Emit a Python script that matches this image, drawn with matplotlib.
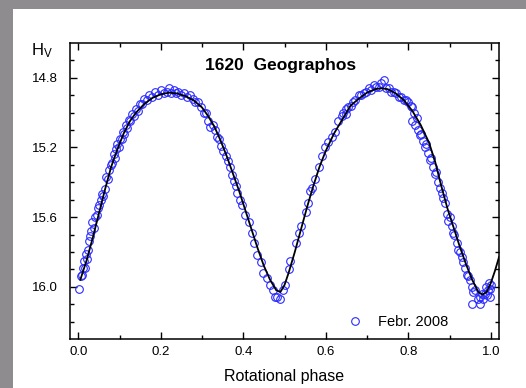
import numpy as np
import matplotlib.pyplot as plt

plt.rcParams['font.family'] = ['Liberation Sans', 'DejaVu Sans']
plt.rcParams['mathtext.default'] = 'regular'

# Fourier fit
fit_phase = [0.005, 0.02, 0.035, 0.05, 0.065, 0.08, 0.095, 0.11, 0.125, 0.14,
             0.16, 0.18, 0.20, 0.22, 0.24, 0.26, 0.28, 0.30, 0.315, 0.33,
             0.345, 0.36, 0.375, 0.39, 0.405, 0.42, 0.435, 0.45, 0.465, 0.48,
             0.49, 0.50, 0.51, 0.525, 0.54, 0.555, 0.57, 0.585, 0.60, 0.62,
             0.64, 0.66, 0.68, 0.70, 0.72, 0.735, 0.75, 0.77, 0.79, 0.81,
             0.83, 0.85, 0.865, 0.88, 0.895, 0.91, 0.925, 0.94, 0.955, 0.97,
             0.98, 0.99, 1.00, 1.01, 1.02]
fit_mag = [15.96, 15.85, 15.72, 15.58, 15.44, 15.31, 15.21, 15.12, 15.05, 15.00,
           14.95, 14.915, 14.895, 14.885, 14.89, 14.905, 14.93, 14.97, 15.02, 15.08,
           15.16, 15.25, 15.35, 15.45, 15.56, 15.67, 15.78, 15.88, 15.96, 16.02,
           16.03, 15.99, 15.92, 15.80, 15.67, 15.54, 15.42, 15.31, 15.22, 15.12,
           15.04, 14.96, 14.92, 14.885, 14.865, 14.86, 14.865, 14.89, 14.93, 14.99,
           15.07, 15.17, 15.28, 15.42, 15.55, 15.66, 15.77, 15.87, 15.96, 16.03,
           16.045, 16.03, 15.98, 15.91, 15.83]

# observations, Febr. 2008
obs_phase = [0.002, 0.007, 0.010, 0.011, 0.017, 0.013, 0.022, 0.018, 0.023, 0.025,
             0.029, 0.031, 0.037, 0.034, 0.041, 0.046, 0.049, 0.051, 0.055, 0.058,
             0.061, 0.065,
             0.068, 0.072, 0.075, 0.079, 0.082, 0.086, 0.089, 0.092, 0.095, 0.098,
             0.101, 0.105, 0.108, 0.111, 0.115, 0.118, 0.122, 0.126, 0.130, 0.134,
             0.139, 0.144, 0.149, 0.154, 0.160, 0.166, 0.172, 0.179, 0.186, 0.193,
             0.200, 0.207, 0.214, 0.219, 0.225, 0.231, 0.237, 0.243, 0.250, 0.257,
             0.264, 0.270, 0.277, 0.284, 0.291, 0.298, 0.304, 0.310, 0.315, 0.320,
             0.326, 0.331, 0.336, 0.342, 0.346,
             0.352, 0.357, 0.362, 0.367, 0.373, 0.378, 0.383, 0.386, 0.392, 0.397,
             0.405, 0.413, 0.422, 0.426, 0.434, 0.442, 0.449, 0.458, 0.466, 0.473,
             0.478, 0.483, 0.490, 0.497, 0.502, 0.510, 0.514, 0.527, 0.534, 0.539,
             0.551, 0.556, 0.563, 0.567, 0.575, 0.583, 0.590, 0.598, 0.605, 0.615,
             0.622, 0.630, 0.640, 0.650,
             0.643, 0.648, 0.655, 0.660, 0.667, 0.672, 0.680, 0.686, 0.692, 0.698,
             0.704, 0.710, 0.716, 0.722, 0.728, 0.733, 0.740, 0.745, 0.753, 0.758,
             0.765, 0.771, 0.777, 0.783, 0.789, 0.795, 0.800, 0.806, 0.810, 0.813,
             0.810, 0.816, 0.820, 0.823, 0.828, 0.832, 0.835, 0.840, 0.843, 0.847,
             0.852, 0.856, 0.860, 0.864, 0.868, 0.872, 0.876, 0.881,
             0.885, 0.889, 0.893, 0.896, 0.900, 0.905, 0.908, 0.912, 0.918, 0.920,
             0.925, 0.930, 0.932, 0.937, 0.942, 0.945, 0.949, 0.954, 0.958, 0.961,
             0.955, 0.973, 0.968, 0.978, 0.980, 0.985, 0.990, 0.993, 0.997, 0.995,
             1.000, 0.999, 0.988, 0.975]
obs_mag = [16.01, 15.94, 15.93, 15.89, 15.89, 15.85, 15.84, 15.81, 15.79, 15.74,
           15.71, 15.68, 15.66, 15.63, 15.60, 15.59, 15.55, 15.53, 15.50, 15.47,
           15.48, 15.44,
           15.37, 15.38, 15.33, 15.30, 15.29, 15.24, 15.26, 15.21, 15.18, 15.20,
           15.15, 15.15, 15.11, 15.12, 15.07, 15.09, 15.04, 15.05, 15.01, 15.02,
           14.98, 14.99, 14.95, 14.95, 14.92, 14.93, 14.90, 14.91, 14.88, 14.90,
           14.87, 14.89, 14.88, 14.86, 14.885, 14.87, 14.89, 14.88, 14.90, 14.89,
           14.91, 14.90, 14.92, 14.94, 14.94, 14.97, 15.00, 15.00, 15.05, 15.08,
           15.07, 15.10, 15.14, 15.15, 15.19,
           15.22, 15.25, 15.28, 15.31, 15.36, 15.39, 15.42, 15.46, 15.50, 15.53,
           15.59, 15.63, 15.69, 15.75, 15.82, 15.86, 15.92, 15.95, 15.99, 16.02,
           16.06, 16.06, 16.07, 16.02, 15.99, 15.90, 15.85, 15.75, 15.69, 15.65,
           15.57, 15.52, 15.45, 15.43, 15.38, 15.31, 15.25, 15.20, 15.17, 15.14,
           15.11, 15.05, 15.02, 14.98,
           15.00, 15.01, 14.97, 14.96, 14.94, 14.93, 14.90, 14.90, 14.89, 14.88,
           14.86, 14.87, 14.84, 14.85, 14.85, 14.83, 14.81, 14.86, 14.86, 14.88,
           14.88, 14.89, 14.91, 14.91, 14.93, 14.93, 14.94, 14.96, 14.97, 15.00,
           15.05, 15.07, 15.03, 15.10, 15.13, 15.12, 15.16, 15.20, 15.18, 15.23,
           15.27, 15.26, 15.31, 15.35, 15.34, 15.40, 15.43, 15.46,
           15.49, 15.52, 15.58, 15.62, 15.60, 15.65, 15.69, 15.70, 15.75, 15.79,
           15.80, 15.83, 15.86, 15.89, 15.93, 15.94, 15.96, 16.00, 16.03, 16.02,
           16.10, 16.10, 16.07, 16.04, 16.07, 16.04, 16.05, 16.02, 16.06, 15.98,
           15.99, 16.01, 16.00, 16.06]

fig = plt.figure(figsize=(5.26, 3.88), dpi=100, facecolor='#8e8c8e')

# white panel inside the grey frame
bg = fig.add_axes([13 / 526, 0, 1 - 13 / 526, 1 - 9 / 388], zorder=0)
bg.set_facecolor('white')
bg.set_xticks([])
bg.set_yticks([])
for s in bg.spines.values():
    s.set_visible(False)

ax = fig.add_axes([70 / 526, 49 / 388, 429 / 526, 296 / 388], zorder=1)
ax.plot(fit_phase, fit_mag, color='black', lw=1.3, zorder=3)
ax.plot(obs_phase, obs_mag, 'o', ms=5.5, mfc='none', mec='#2b2bff', mew=0.8,
        label='Febr. 2008', zorder=2)

ax.set_xlim(-0.02, 1.02)
ax.set_ylim(16.3, 14.6)
ax.set_xticks([0.0, 0.2, 0.4, 0.6, 0.8, 1.0])
ax.set_xticks(np.arange(0.1, 1.0, 0.2), minor=True)
ax.set_yticks([14.8, 15.2, 15.6, 16.0])
ax.set_yticks([14.7, 14.9, 15.0, 15.1, 15.3, 15.4, 15.5, 15.7, 15.8, 15.9, 16.1, 16.2], minor=True)
ax.xaxis.set_major_formatter(plt.FormatStrFormatter('%.1f'))
ax.yaxis.set_major_formatter(plt.FormatStrFormatter('%.1f'))
ax.tick_params(which='both', direction='in', top=True, right=True, labelsize=9.5, width=1)
ax.tick_params(which='major', length=5)
ax.tick_params(axis='x', which='major', pad=5)
ax.tick_params(axis='y', which='major', pad=9)
ax.tick_params(which='minor', length=3)
for s in ax.spines.values():
    s.set_linewidth(1.1)

ax.set_xlabel('Rotational phase', fontsize=11.5, labelpad=8)
ax.text(0.49, 0.925, '1620  Geographos', transform=ax.transAxes, ha='center', va='center',
        fontsize=12.5, fontweight='bold')
fig.text(31 / 526, 1 - 55 / 388, r'H$_{V}$', fontsize=12)

ax.legend(loc='lower right', bbox_to_anchor=(0.882, 0.035), frameon=False, fontsize=10.5,
          handlelength=1.0, handletextpad=1.1, borderpad=0, borderaxespad=0)

fig.savefig('out.png', dpi=100, facecolor=fig.get_facecolor())
